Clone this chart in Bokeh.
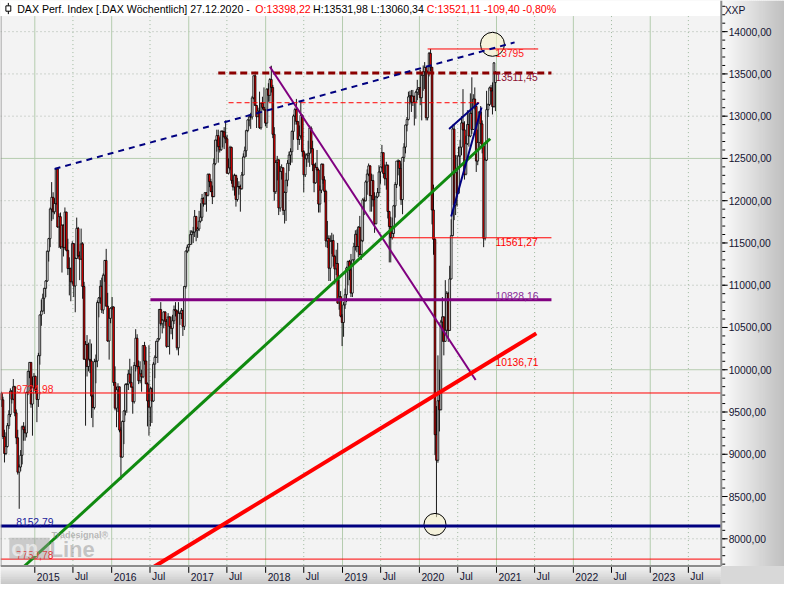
import numpy as np
import pandas as pd
from bokeh.plotting import figure
from bokeh.models import Range1d
from bokeh.core.properties import value
from bokeh.embed import file_html
from bokeh.resources import INLINE

# ------------------------------------------------------------------ data
first_week_end = "2014-07-27"   # weekly bars, stamped with the Sunday ending each week

week_open = [
    9720, 9644, 9210, 9009, 9092, 9339, 9470, 9747, 9651, 9799, 9490, 9195, 8788, 8850, 8988, 9326, 9291, 9252, 9732, 9980, 10087, 9594, 9787, 9922,
    9764, 9648, 10167, 10649, 10694, 10846, 10963, 11050, 11402, 11551, 11902, 12040, 11868, 11967, 12375, 11689, 11811, 11454, 11710, 11447, 11865, 11413, 11197, 11197, 11040, 11492,
    10991, 11316, 11673, 11347, 11308, 11490, 10985, 10124, 10298, 10038, 10123, 10104, 9688, 9553, 10096, 10104, 10795, 10850, 10988, 10708, 11119, 11293, 10752, 10340, 10608, 10727,
    10743, 9849, 9545, 9764, 9798, 9286, 8967, 9388, 9513, 9824, 9831, 9950, 9851, 9794, 9622, 10051, 10373, 10039, 9870, 9952, 9916, 10286, 10103, 9834, 9631, 9557,
    9776, 9630, 10066, 10147, 10337, 10367, 10713, 10544, 10587, 10684, 10573, 10276, 10626, 10511, 10490, 10580, 10711, 10696, 10259, 10668, 10665, 10700, 10513, 10986, 11404, 11450,
    11481, 11599, 11629, 11630, 11814, 11651, 11666, 11757, 11804, 12027, 11963, 12095, 12064, 12313, 12225, 12109, 12049, 12438, 12717, 12770, 12638, 12602, 12823, 12815, 12753, 12733,
    12325, 12389, 12631, 12240, 12163, 12298, 12014, 12165, 12168, 12142, 12304, 12518, 12592, 12829, 12956, 12992, 12991, 13217, 13478, 13127, 12994, 13060, 12862, 13153, 13104, 13072,
    12918, 13320, 13246, 13434, 13340, 12785, 12107, 12452, 12483, 11914, 12346, 12390, 11886, 12097, 12242, 12442, 12540, 12580, 12820, 13001, 13078, 12938, 12724, 12767, 13011, 12580,
    12306, 12496, 12541, 12561, 12860, 12616, 12425, 12211, 12394, 12364, 11960, 12124, 12431, 12247, 12111, 11524, 11554, 11201, 11519, 11529, 11342, 11193, 11257, 10788, 10866, 10634,
    10559, 10768, 10888, 11205, 11282, 11181, 10907, 11300, 11457, 11602, 11458, 11686, 11364, 11526, 12010, 11999, 12222, 12315, 12412, 12060, 12239, 12011, 11727, 12045, 12096, 12340,
    12399, 12568, 12323, 12260, 12419, 11872, 11694, 11563, 11612, 11939, 12192, 12469, 12468, 12381, 12013, 12512, 12634, 12895, 12961, 13229, 13242, 13164, 13236, 13166, 13283, 13319, 13337,
    13219, 13483, 13526, 13577, 12982, 13514, 13744, 13579, 11890, 11542, 9232, 8929, 9633, 9526, 10565, 10626, 10336, 10467, 10904, 10465, 11074, 11587, 12848, 11949, 12331,
    12089, 12528, 12633, 12920, 12838, 12313, 12674, 12901, 12765, 13033, 12842, 13203, 13116, 12469, 12689, 13051, 12909, 12646, 11556, 12480, 13077, 13137, 13335, 13299, 13114, 13398,
]
week_high = [
    9740, 9680, 9290, 9260, 9370, 9520, 9780, 9760, 9890, 9810, 9530, 9290, 8880, 9050, 9340, 9380, 9340, 9740, 9990, 10090, 10090, 9920, 9960, 9930,
    9800, 10200, 10650, 10830, 10900, 10970, 11060, 11410, 11560, 11920, 12220, 12100, 12030, 12390, 12380, 11850, 11860, 11720, 11720, 11920, 11870, 11550, 11330, 11210, 11520, 11500,
    11330, 11800, 11690, 11400, 11670, 11510, 11040, 10340, 10410, 10320, 10360, 10310, 9700, 10130, 10180, 10820, 10860, 11060, 11090, 11140, 11300, 11430, 10910, 10730, 10740, 10860,
    10750, 10040, 9800, 9840, 9800, 9320, 9400, 9520, 9840, 9840, 10000, 10130, 10040, 9800, 10090, 10480, 10420, 10110, 10100, 10000, 10290, 10330, 10270, 9850, 10290, 9800,
    9790, 10090, 10170, 10340, 10370, 10720, 10800, 10600, 10690, 10690, 10600, 10670, 10630, 10630, 10650, 10760, 10800, 10710, 10800, 10690, 10730, 10710, 10990, 11410, 11480, 11490,
    11650, 11650, 11690, 11890, 11820, 11690, 11880, 11970, 12080, 12040, 12100, 12100, 12320, 12320, 12260, 12180, 12500, 12720, 12840, 12840, 12750, 12830, 12830, 12870, 12950, 12780,
    12500, 12650, 12640, 12310, 12320, 12310, 12270, 12230, 12190, 12340, 12560, 12640, 12840, 12960, 13020, 13040, 13240, 13480, 13525, 13130, 13100, 13290, 13160, 13230, 13340, 13080,
    13330, 13390, 13450, 13597, 13370, 12870, 12480, 12530, 12490, 12410, 12430, 12390, 12110, 12330, 12480, 12580, 12620, 12830, 13020, 13100, 13204, 12940, 12890, 13170, 13020, 12600,
    12560, 12560, 12710, 12890, 12880, 12710, 12440, 12450, 12600, 12380, 12180, 12440, 12440, 12290, 12130, 11760, 11590, 11590, 11620, 11600, 11360, 11420, 11500, 11070, 10930, 10660,
    10800, 10960, 11220, 11290, 11300, 11370, 11300, 11500, 11650, 11660, 11700, 11820, 11540, 12030, 12040, 12240, 12370, 12440, 12420, 12320, 12310, 12100, 12060, 12150, 12420, 12400,
    12660, 12570, 12430, 12460, 12430, 11880, 11810, 11800, 11950, 12220, 12470, 12490, 12480, 12440, 12520, 12680, 12900, 12990, 13290, 13300, 13310, 13310, 13240, 13300, 13430, 13340, 13550,
    13510, 13600, 13640, 13580, 13540, 13760, 13795, 13580, 12190, 11560, 9570, 10170, 10000, 10590, 10860, 10630, 11060, 10930, 10920, 11230, 11780, 12900, 12910, 12540, 12540,
    12640, 12720, 13000, 13320, 12940, 12770, 13070, 13070, 13270, 13460, 13260, 13340, 13120, 12840, 13060, 13120, 12950, 12670, 12510, 13300, 13150, 13350, 13370, 13400, 13640, 13532,
]
week_low = [
    9560, 9180, 8903, 8990, 9080, 9300, 9440, 9600, 9640, 9450, 9120, 8760, 8355, 8800, 8880, 9160, 9160, 9200, 9700, 9900, 9550, 9220, 9780, 9720,
    9380, 9560, 10060, 10520, 10690, 10660, 10860, 11040, 11280, 11450, 11760, 11780, 11840, 11950, 11680, 11440, 11430, 11150, 11340, 11420, 11400, 11120, 10880, 10810, 11010, 10860,
    10680, 11310, 11330, 11060, 11300, 10840, 10120, 9338, 9920, 9980, 9960, 9430, 9320, 9530, 9840, 10030, 10620, 10780, 10670, 10660, 11040, 10750, 10330, 10120, 10550, 10710,
    9810, 9520, 9320, 9500, 9260, 8700, 8960, 9120, 9460, 9490, 9760, 9840, 9790, 9480, 9600, 9980, 10010, 9830, 9840, 9740, 9900, 10060, 9830, 9330, 9220, 9330,
    9370, 9620, 9900, 10140, 10080, 10350, 10520, 10430, 10490, 10520, 10260, 10270, 10180, 10420, 10360, 10540, 10630, 10230, 10170, 10530, 10600, 10400, 10470, 10960, 11380, 11400,
    11480, 11480, 11500, 11570, 11520, 11560, 11640, 11740, 11760, 11930, 11950, 11870, 12050, 12160, 12100, 11960, 12040, 12420, 12580, 12450, 12570, 12590, 12630, 12610, 12680, 12320,
    12310, 12360, 12200, 12120, 12060, 11930, 11990, 12070, 11870, 12130, 12300, 12510, 12520, 12810, 12880, 12850, 12960, 13200, 13120, 12860, 12990, 12850, 12840, 13080, 13070, 12880,
    12860, 13170, 13170, 13280, 12740, 12000, 12080, 12240, 11830, 11870, 12250, 11830, 11730, 11760, 12170, 12350, 12420, 12450, 12720, 12900, 12900, 12600, 12660, 12740, 12520, 12100,
    12280, 12400, 12450, 12400, 12570, 12350, 12100, 12200, 12360, 11860, 11860, 12090, 12200, 11980, 11450, 11440, 11050, 11050, 11370, 11220, 11010, 11120, 10780, 10710, 10620, 10280,
    10390, 10720, 10800, 11000, 11060, 10860, 10860, 11250, 11410, 11390, 11330, 11350, 11300, 11510, 11830, 11990, 12070, 12290, 11870, 11870, 11930, 11620, 11720, 12030, 12050, 12200,
    12380, 12270, 12180, 12130, 11790, 11270, 11270, 11540, 11560, 11800, 12150, 12300, 12170, 11950, 11840, 12460, 12560, 12820, 12950, 13140, 13050, 13120, 12890, 12970, 13190, 13250, 13130,
    12950, 13300, 13320, 12950, 12950, 13470, 13530, 11720, 11360, 8990, 8256, 8900, 9270, 9520, 10330, 10170, 10330, 10400, 10330, 10460, 11070, 11580, 11770, 11830, 11930,
    12080, 12420, 12540, 12830, 12250, 12300, 12660, 12640, 12750, 12790, 12840, 13080, 12340, 12420, 12600, 12670, 12560, 11450, 11530, 12470, 12990, 13120, 13140, 13020, 13100, 13060,
]
week_close = [
    9644, 9210, 9009, 9092, 9339, 9470, 9747, 9651, 9799, 9490, 9195, 8788, 8850, 8988, 9326, 9291, 9252, 9732, 9980, 10087, 9594, 9787, 9922, 9764,
    9648, 10167, 10649, 10694, 10846, 10963, 11050, 11402, 11551, 11902, 12040, 11868, 11967, 12375, 11689, 11811, 11454, 11710, 11447, 11865, 11413, 11197, 11197, 11040, 11492, 10991,
    11316, 11673, 11347, 11308, 11490, 10985, 10124, 10298, 10038, 10123, 10104, 9688, 9553, 10096, 10104, 10795, 10850, 10988, 10708, 11119, 11293, 10752, 10340, 10608, 10727, 10743,
    9849, 9545, 9764, 9798, 9286, 8967, 9388, 9513, 9824, 9831, 9950, 9851, 9794, 9622, 10051, 10373, 10039, 9870, 9952, 9916, 10286, 10103, 9834, 9631, 9557, 9776,
    9630, 10066, 10147, 10337, 10367, 10713, 10544, 10587, 10684, 10573, 10276, 10626, 10511, 10490, 10580, 10711, 10696, 10259, 10668, 10665, 10700, 10513, 10986, 11404, 11450, 11481,
    11599, 11629, 11630, 11814, 11651, 11666, 11757, 11804, 12027, 11963, 12095, 12064, 12313, 12225, 12109, 12049, 12438, 12717, 12770, 12638, 12602, 12823, 12815, 12753, 12733, 12325,
    12389, 12631, 12240, 12163, 12298, 12014, 12165, 12168, 12142, 12304, 12518, 12592, 12829, 12956, 12992, 12991, 13217, 13478, 13127, 12994, 13060, 12862, 13153, 13104, 13072, 12918,
    13320, 13246, 13434, 13340, 12785, 12107, 12452, 12483, 11914, 12346, 12390, 11886, 12097, 12242, 12442, 12540, 12580, 12820, 13001, 13078, 12938, 12724, 12767, 13011, 12580, 12306,
    12496, 12541, 12561, 12860, 12616, 12425, 12211, 12394, 12364, 11960, 12124, 12431, 12247, 12111, 11524, 11554, 11201, 11519, 11529, 11342, 11193, 11257, 10788, 10866, 10634, 10559,
    10768, 10888, 11205, 11282, 11181, 10907, 11300, 11457, 11602, 11458, 11686, 11364, 11526, 12010, 11999, 12222, 12315, 12412, 12060, 12239, 12011, 11727, 12045, 12096, 12340, 12399,
    12568, 12323, 12260, 12419, 11872, 11694, 11563, 11612, 11939, 12192, 12469, 12468, 12381, 12013, 12512, 12634, 12895, 12961, 13229, 13242, 13164, 13236, 13166, 13283, 13319, 13337, 13219,
    13483, 13526, 13577, 12982, 13514, 13744, 13579, 11890, 11542, 9232, 8929, 9633, 9526, 10565, 10626, 10336, 10467, 10904, 10465, 11074, 11587, 12848, 11949, 12331, 12089,
    12528, 12633, 12920, 12838, 12313, 12674, 12901, 12765, 13033, 12842, 13203, 13116, 12469, 12689, 13051, 12909, 12646, 11556, 12480, 13077, 13137, 13335, 13299, 13114, 13630, 13521,
]

# right price axis
price_ticks = [8000, 8500, 9000, 9500, 10000, 10500, 11000, 11500, 12000, 12500, 13000, 13500, 14000]
price_tick_labels = ["8000,00", "8500,00", "9000,00", "9500,00", "10000,00", "10500,00", "11000,00",
                     "11500,00", "12000,00", "12500,00", "13000,00", "13500,00", "14000,00"]
# time axis
date_ticks = ["2015-01-01", "2015-07-01", "2016-01-01", "2016-07-01", "2017-01-01", "2017-07-01",
              "2018-01-01", "2018-07-01", "2019-01-01", "2019-07-01", "2020-01-01", "2020-07-01",
              "2021-01-01", "2021-07-01", "2022-01-01", "2022-07-01", "2023-01-01", "2023-07-01"]
date_tick_labels = ["2015", "Jul", "2016", "Jul", "2017", "Jul", "2018", "Jul", "2019", "Jul",
                    "2020", "Jul", "2021", "Jul", "2022", "Jul", "2023", "Jul"]

# header
header_title = "DAX Perf. Index [.DAX  Wöchentlich] 27.12.2020 -"
header_open = "O:13398,22"
header_high_low = "H:13531,98 L:13060,34"
header_close = "C:13521,11 -109,40 -0,80%"
axis_unit = "XXP"

# trend lines (date, price endpoints)
blue_dash_dates = ["2015-04-05", "2021-03-28"]
blue_dash_prices = [12376, 13873]
green_dates = ["2014-10-12", "2020-12-02"]
green_prices = [7604, 12733]
red_trend_dates = ["2016-06-19", "2021-07-09"]
red_trend_prices = [7622, 10430]
purple_trend_dates = ["2018-01-21", "2020-09-24"]
purple_trend_prices = [13585, 9878]
wedge_upper_dates = ["2020-05-21", "2020-10-08"]
wedge_upper_prices = [12849, 13159]
wedge_lower_dates = ["2020-05-31", "2020-10-22"]
wedge_lower_prices = [11812, 13102]

# horizontal levels
high_level = 13795.0
high_level_dates = ["2020-02-09", "2021-07-18"]
resist_level = 13511.45
resist_level_dates = ["2017-05-21", "2021-09-19"]
dash_level = 13159.0
dash_level_dates = ["2017-07-09", "2020-10-11"]
support_level = 11561.27
support_level_dates = ["2019-08-25", "2021-09-19"]
purple_level = 10828.16
purple_level_dates = ["2016-07-03", "2021-09-19"]
red_trend_value = 10136.71
full_levels = [9724.98, 8152.79, 7759.78]
full_level_labels = ["9724,98", "8152,79", "7759,78"]

circle_dates = ["2020-12-13", "2020-03-15"]
circle_prices = [13850, 8170]

# ------------------------------------------------------------------ helpers
DAY_MS = 86400000.0
YEAR_MS = 365.25 * DAY_MS


def ms(d):
    return pd.Timestamp(d).value / 1e6


T2015 = ms("2015-01-01")


def ref_x(px):      # layout position (reference pixel) -> data x
    return T2015 + (px - 35.0) / 78.5 * YEAR_MS


def ref_y(py):      # layout position (reference pixel) -> price
    return 14000.0 - (py - 32.0) * 500.0 / 43.42


def gray(v):
    v = int(round(v))
    return "#%02x%02x%02x" % (v, v, v)


FONT = value("Liberation Sans")
FS = value("10.3px")
FL, FR, FT, FB = 0, 735, 16, 581   # chart frame in reference pixels

p = figure(width=784, height=584, title=None,
           x_range=Range1d(ref_x(0), ref_x(800)), y_range=Range1d(ref_y(600), ref_y(0)),
           x_axis_type=None, y_axis_type=None, toolbar_location=None,
           output_backend="svg", min_border=0,
           background_fill_color="#f3f3f3", border_fill_color="#f3f3f3",
           outline_line_color=None)

# header band
p.quad(left=ref_x(FL), right=ref_x(FR), top=ref_y(0), bottom=ref_y(FT),
       fill_color="white", line_color=None)

# grid
solid_levels = [v for v in price_ticks if v % 2500 == 0]
dot_levels = [v for v in price_ticks if v % 2500 != 0]
p.segment(x0=ref_x(FL), x1=ref_x(FR), y0=dot_levels, y1=dot_levels,
          line_color="#a9b4a9", line_dash="1 3", line_width=1)
p.segment(x0=ref_x(FL), x1=ref_x(FR), y0=solid_levels, y1=solid_levels,
          line_color="#b6cdb0", line_width=1)
year_x = [ms(d) for d, t in zip(date_ticks, date_tick_labels) if t != "Jul"]
jul_x = [ms(d) for d, t in zip(date_ticks, date_tick_labels) if t == "Jul"]
p.segment(x0=jul_x, x1=jul_x, y0=ref_y(FT), y1=ref_y(FB),
          line_color="#9fb99f", line_dash="1 3", line_width=1)
p.segment(x0=year_x, x1=year_x, y0=ref_y(FT), y1=ref_y(FB),
          line_color="#b4ccae", line_width=1)

# candles
dates = pd.date_range(first_week_end, periods=len(week_close), freq="W-SUN")
xs = np.array([ms(d) for d in dates])
o = np.array(week_open, dtype=float)
h = np.array(week_high, dtype=float)
l = np.array(week_low, dtype=float)
c = np.array(week_close, dtype=float)
body_colors = ["white" if cc >= oo else "#ff0000" for oo, cc in zip(o, c)]
p.segment(x0=xs, y0=l, x1=xs, y1=h, line_color="black", line_width=0.9)
p.vbar(x=xs, width=8 * DAY_MS, top=np.maximum(o, c), bottom=np.minimum(o, c),
       fill_color=body_colors, line_color="black", line_width=0.8)

# circles
p.scatter(x=[ms(d) for d in circle_dates], y=circle_prices, size=[24, 22], marker="circle",
          fill_color="#f5f1c6", fill_alpha=0.55, line_color="black", line_width=1)


def tl(dts, prices, **kw):
    p.line(x=[ms(d) for d in dts], y=prices, **kw)


# levels & trend lines
tl(dash_level_dates, [dash_level, dash_level], line_color="#ff0000", line_width=1, line_dash="5 3")
tl(support_level_dates, [support_level, support_level], line_color="#ff0000", line_width=1)
tl(high_level_dates, [high_level, high_level], line_color="#ff0000", line_width=1)
p.segment(x0=ref_x(FL), x1=ref_x(FR), y0=[full_levels[0], full_levels[2]],
          y1=[full_levels[0], full_levels[2]], line_color="#ff0000", line_width=1)
p.segment(x0=ref_x(FL), x1=ref_x(FR), y0=full_levels[1], y1=full_levels[1],
          line_color="#000080", line_width=3)
tl(purple_level_dates, [purple_level, purple_level], line_color="#800080", line_width=3)
tl(resist_level_dates, [resist_level, resist_level], line_color="#8b0000", line_width=3, line_dash="7 4")
tl(purple_trend_dates, purple_trend_prices, line_color="#800080", line_width=2)
tl(green_dates, green_prices, line_color="#0f8a0f", line_width=3)
tl(red_trend_dates, red_trend_prices, line_color="#ff0000", line_width=4)
tl(blue_dash_dates, blue_dash_prices, line_color="#000080", line_width=2, line_dash="6 5")
tl(wedge_upper_dates, wedge_upper_prices, line_color="#000080", line_width=2)
tl(wedge_lower_dates, wedge_lower_prices, line_color="#000080", line_width=2)

# value labels at the last bar
last_x = xs[-1]
p.text(x=[last_x] * 4, y=[high_level, resist_level, support_level, red_trend_value],
       text=["13795", "13511,45", "11561,27", "10136,71"],
       text_color=["#ff1a1a", "#8b1030", "#ff0000", "#ff0000"],
       text_font=FONT, text_font_size=FS, text_align="left", text_baseline="top")
p.text(x=[last_x], y=[purple_level], text=["10828,16"], text_color="#8a2a9a",
       text_font=FONT, text_font_size=FS, text_align="left", text_baseline="bottom")
p.text(x=[ref_x(16)] * 3, y=full_levels, text=full_level_labels,
       text_color=["#ff1a1a", "#1a1a9a", "#ff0000"],
       text_font=FONT, text_font_size=FS, text_align="left", text_baseline="bottom")

# watermark
p.quad(left=ref_x(9), right=ref_x(50), top=ref_y(552), bottom=ref_y(574),
       fill_color="#9a9a9a", fill_alpha=0.45, line_color=None)
p.text(x=[ref_x(11)], y=[ref_y(563)], text=["on"], text_color="#eeeeee", text_alpha=0.8,
       text_font=FONT, text_font_size=value("22px"), text_font_style="bold",
       text_align="left", text_baseline="middle")
p.text(x=[ref_x(50)], y=[ref_y(564)], text=["Line"], text_color="#999999", text_alpha=0.55,
       text_font=FONT, text_font_size=value("22px"), text_font_style="bold",
       text_align="left", text_baseline="middle")
p.text(x=[ref_x(52)], y=[ref_y(549)], text=["Tradesignal®"], text_color="#8c8c8c", text_alpha=0.6,
       text_font=FONT, text_font_size=value("9px"), text_font_style="bold",
       text_align="left", text_baseline="middle")

# right axis panel (horizontal gradient)
n = 32
p.quad(left=[ref_x(736 + 2 * i) for i in range(n)], right=[ref_x(736 + 2 * i + 2.6) for i in range(n)],
       top=ref_y(0), bottom=ref_y(FB),
       fill_color=[gray(250 - 58 * i / (n - 1)) for i in range(n)], line_color=None)
# bottom time axis strip (vertical gradient)
m = 10
p.quad(left=ref_x(FL), right=ref_x(FR),
       top=[ref_y(FB + 1.9 * i) for i in range(m)], bottom=[ref_y(FB + 1.9 * i + 2.5) for i in range(m)],
       fill_color=[gray(242 - 42 * i / (m - 1)) for i in range(m)], line_color=None)
p.quad(left=ref_x(FR), right=ref_x(800), top=ref_y(FB), bottom=ref_y(600),
       fill_color="#d8d8d8", line_color=None)

# frame lines
p.segment(x0=ref_x(FR + 0.5), x1=ref_x(FR + 0.5), y0=ref_y(0), y1=ref_y(FB),
          line_color="#8c8c8c", line_width=2)
p.segment(x0=ref_x(FL), x1=ref_x(FR), y0=ref_y(FB), y1=ref_y(FB),
          line_color="#8c8c8c", line_width=2)
p.segment(x0=ref_x(0.5), x1=ref_x(0.5), y0=ref_y(FT), y1=ref_y(FB),
          line_color="#8c8c8c", line_width=1)

# right axis ticks & labels
minor = list(range(7700, 14400, 100))
p.segment(x0=ref_x(736.5), x1=ref_x(739.5), y0=minor, y1=minor, line_color="black", line_width=1)
p.segment(x0=ref_x(736.5), x1=ref_x(742), y0=price_ticks, y1=price_ticks, line_color="black", line_width=1)
p.text(x=[ref_x(743)] * len(price_ticks), y=price_ticks, text=price_tick_labels,
       text_color="#141432", text_font=FONT, text_font_size=FS,
       text_align="left", text_baseline="middle")
p.text(x=[ref_x(739)], y=[ref_y(10)], text=[axis_unit], text_color="#141432",
       text_font=FONT, text_font_size=FS, text_align="left", text_baseline="middle")

# time axis ticks & labels
tick_x = [ms(d) for d in date_ticks]
p.segment(x0=tick_x, x1=tick_x, y0=ref_y(FB + 1), y1=ref_y(FB + 7), line_color="black", line_width=1)
p.text(x=tick_x, y=[ref_y(592)] * len(tick_x), text=date_tick_labels, x_offset=2,
       text_color="#141432", text_font=FONT, text_font_size=FS,
       text_align="left", text_baseline="middle")

# header text and icon
p.segment(x0=ref_x(8), x1=ref_x(8), y0=ref_y(2.5), y1=ref_y(14), line_color="black", line_width=1)
p.quad(left=ref_x(5.5), right=ref_x(10.5), top=ref_y(5.5), bottom=ref_y(11),
       fill_color="white", line_color="black", line_width=1)
hy = ref_y(9)
p.text(x=[ref_x(17), ref_x(260), ref_x(319), ref_x(435)], y=[hy] * 4,
       text=[header_title, header_open, header_high_low, header_close],
       text_color=["black", "#ff0000", "black", "#ff0000"],
       text_font=FONT, text_font_size=value("10.6px"),
       text_align="left", text_baseline="middle")

open("out.html", "w").write(file_html(p, INLINE))
